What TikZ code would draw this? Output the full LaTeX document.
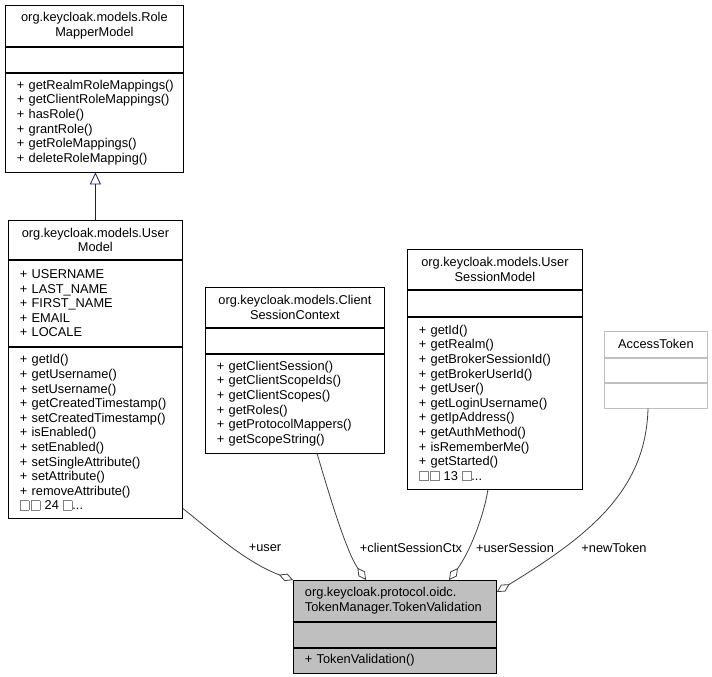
\documentclass[tikz,border=0pt]{standalone}
\usepackage{fontspec}
\setmainfont{Liberation Sans}
\usepackage{xcolor}
\usetikzlibrary{arrows.meta}
\definecolor{edgegray}{HTML}{404040}
\definecolor{boxgray}{HTML}{BFBFBF}
\definecolor{inhblue}{HTML}{191970}
\newcommand{\tofubox}{{\color{gray}\setlength{\fboxsep}{0pt}\setlength{\fboxrule}{0.6bp}\fbox{\rule{0pt}{9bp}\hspace{8bp}}}}
\newcommand{\umlfont}{\fontsize{12.8bp}{14.6bp}\selectfont\hyphenpenalty=10000\relax\exhyphenpenalty=10000\relax}
\tikzset{
  every node/.style={font=\umlfont},
  cpart/.style={draw, rectangle, anchor=north west, inner xsep=11.5bp, inner ysep=0pt, text width=#1, line width=0.8bp},
  ctitle/.style={cpart=#1, align=center},
  cbody/.style={cpart=#1, align=left},
  aggr/.style={draw=edgegray, line width=0.8bp, -{Diamond[open, length=15bp, width=8bp]}},
  inherit/.style={draw=inhblue, line width=0.8bp, -{Triangle[open, length=12bp, width=11bp]}}
}
\begin{document}
\begin{tikzpicture}[x=1bp, y=-1bp]
\useasboundingbox (0,0) rectangle (712,677);
% RoleMapperModel
\node[ctitle=155bp, minimum height=41bp] (rolet) at (5,5) {org.keycloak.models.Role\\MapperModel};
\node[cbody=155bp, minimum height=25bp] (rolea) at (rolet.south west) {};
\node[cbody=155bp, minimum height=99bp] (rolem) at (rolea.south west) {+~getRealmRoleMappings()\\+~getClientRoleMappings()\\+~hasRole()\\+~grantRole()\\+~getRoleMappings()\\+~deleteRoleMapping()};
% UserModel
\node[ctitle=151bp, minimum height=39bp] (usert) at (8,220) {org.keycloak.models.User\\Model};
\node[cbody=151bp, minimum height=86bp] (usera) at (usert.south west) {+~USERNAME\\+~LAST\_NAME\\+~FIRST\_NAME\\+~EMAIL\\+~LOCALE};
\node[cbody=151bp, minimum height=171bp] (userm) at (usera.south west) {+~getId()\\+~getUsername()\\+~setUsername()\\+~getCreatedTimestamp()\\+~setCreatedTimestamp()\\+~isEnabled()\\+~setEnabled()\\+~setSingleAttribute()\\+~setAttribute()\\+~removeAttribute()\\\tofubox\,\tofubox~24~\tofubox...};
% ClientSessionContext
\node[ctitle=156bp, minimum height=40bp] (csct) at (205,287) {org.keycloak.models.Client\\SessionContext};
\node[cbody=156bp, minimum height=25bp] (csca) at (csct.south west) {};
\node[cbody=156bp, minimum height=99bp] (cscm) at (csca.south west) {+~getClientSession()\\+~getClientScopeIds()\\+~getClientScopes()\\+~getRoles()\\+~getProtocolMappers()\\+~getScopeString()};
% UserSessionModel
\node[ctitle=152bp, minimum height=40bp] (usmt) at (407,249) {org.keycloak.models.User\\SessionModel};
\node[cbody=152bp, minimum height=26bp] (usma) at (usmt.south west) {};
\node[cbody=152bp, minimum height=172bp] (usmm) at (usma.south west) {+~getId()\\+~getRealm()\\+~getBrokerSessionId()\\+~getBrokerUserId()\\+~getUser()\\+~getLoginUsername()\\+~getIpAddress()\\+~getAuthMethod()\\+~isRememberMe()\\+~getStarted()\\\tofubox\,\tofubox~13~\tofubox...};
% AccessToken
\node[ctitle=80bp, draw=boxgray, minimum height=26bp] (att) at (604,331) {AccessToken};
\node[cbody=80bp, draw=boxgray, minimum height=24bp] (ata) at (att.south west) {};
\node[cbody=80bp, draw=boxgray, minimum height=25bp] (atm) at (ata.south west) {};
% TokenValidation
\node[cbody=180bp, fill=boxgray, minimum height=41bp] (tvt) at (293,580) {org.keycloak.protocol.oidc.\\TokenManager.TokenValidation};
\node[cbody=180bp, fill=boxgray, minimum height=25bp] (tva) at (tvt.south west) {};
\node[cbody=180bp, fill=boxgray, minimum height=25bp] (tvm) at (tva.south west) {+~TokenValidation()};
% edges
\draw[inherit] (usert.north) -- (usert.north |- rolem.south);
\draw[aggr] ([yshift=10bp]userm.south east) .. controls (210,530) and (245,562) .. (tvt.north west);
\draw[aggr] ([xshift=112bp]cscm.south west) .. controls (325,480) and (345,550) .. ([xshift=73bp]tvt.north west);
\draw[aggr] ([xshift=81bp]usmm.south west) .. controls (484,515) and (470,552) .. ([xshift=156bp]tvt.north west);
\draw[aggr] ([xshift=44bp]atm.south west) .. controls (646,490) and (590,535) .. ([yshift=-12bp]tvt.north east);
\node (lbuser) at (265,548) {+user};
\node (lbcsc) at (411,548) {+clientSessionCtx};
\node (lbusm) at (515,548) {+userSession};
\node (lbat) at (614,548) {+newToken};
\end{tikzpicture}
\end{document}
